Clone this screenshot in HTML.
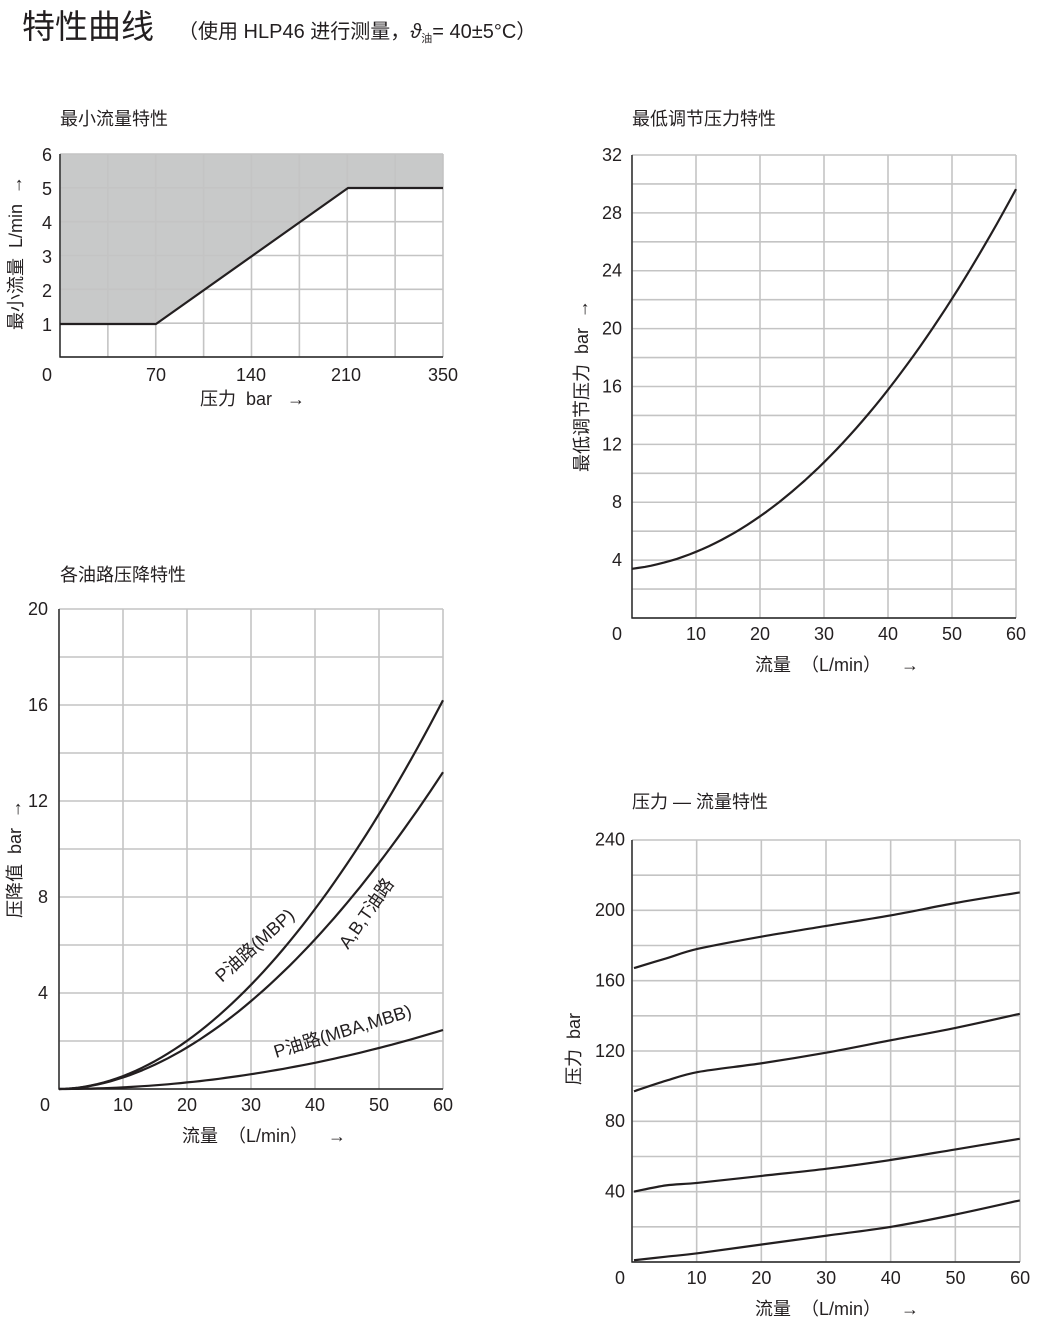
<!DOCTYPE html>
<html><head><meta charset="utf-8"><style>
html,body{margin:0;padding:0;background:#fff;}
svg{display:block;font-family:"Liberation Sans","Noto Sans CJK SC",sans-serif;}
.g{stroke:#c4c4c4;stroke-width:1.6;fill:none}
.ax{stroke:#222;stroke-width:1.4;fill:none}
.c{stroke:#231f20;stroke-width:2.2;fill:none;stroke-linejoin:round}
text{fill:#231f20;font-size:18px;white-space:pre}
</style></head><body>
<svg id="s" width="1046" height="1332" viewBox="0 0 1046 1332">
<text x="22" y="38" style="font-size:33px" font-family="Noto Sans CJK SC, sans-serif">特性曲线</text>
<text x="178" y="38" style="font-size:20px">（使用 HLP46 进行测量，<tspan font-style="italic">ϑ</tspan><tspan font-size="11" dy="4">油</tspan><tspan dy="-4">= 40±5°C）</tspan></text>

<!-- Chart 1 -->
<text x="60" y="125">最小流量特性</text>
<polygon points="60,154 443,154 443,188 348,188 156,324 60,324" fill="#c8c9c9"/>
<g id="g1"></g>
<polyline class="c" points="60,324 156,324 348,188 443,188"/>
<g text-anchor="end">
<text x="52" y="161">6</text><text x="52" y="195">5</text><text x="52" y="229">4</text><text x="52" y="263">3</text><text x="52" y="297">2</text><text x="52" y="331">1</text>
</g>
<g text-anchor="middle">
<text x="47" y="381">0</text><text x="156" y="381">70</text><text x="251" y="381">140</text><text x="346" y="381">210</text><text x="443" y="381">350</text>
</g>
<text x="200" y="405">压力  bar   →</text>
<text transform="translate(22,330) rotate(-90)">最小流量  L/min  →</text>

<!-- Chart 2 -->
<text x="632" y="125">最低调节压力特性</text>
<g id="g2"></g>
<path id="c2" class="c"/>
<g text-anchor="end" id="t2"></g>
<text x="755" y="671">流量  （L/min）    →</text>
<text transform="translate(588,472) rotate(-90)">最低调节压力  bar  →</text>

<!-- Chart 3 -->
<text x="60" y="581">各油路压降特性</text>
<g id="g3"></g>
<path id="c3a" class="c"/><path id="c3b" class="c"/><path id="c3c" class="c"/>
<g text-anchor="end" id="t3"></g>
<text x="182" y="1142">流量  （L/min）    →</text>
<text transform="translate(21,918) rotate(-90)">压降值  bar  →</text>
<text transform="translate(222,983) rotate(-42)">P油路(MBP)</text>
<text transform="translate(348,950) rotate(-55)">A,B,T油路</text>
<text transform="translate(276,1058) rotate(-17)">P油路(MBA,MBB)</text>

<!-- Chart 4 -->
<text x="632" y="808">压力 — 流量特性</text>
<g id="g4"></g>
<g id="c4"></g>
<g text-anchor="end" id="t4"></g>
<text x="755" y="1315">流量  （L/min）    →</text>
<text transform="translate(580,1085) rotate(-90)">压力  bar</text>
</svg>
<script>
var NS="http://www.w3.org/2000/svg";
function el(p,n,a,t){var e=document.createElementNS(NS,n);for(var k in a)e.setAttribute(k,a[k]);if(t!=null)e.textContent=t;document.getElementById(p).appendChild(e);return e;}
function grid(id,x0,x1,y0,y1,nc,nr){
 for(var i=0;i<=nc;i++){var x=x0+(x1-x0)*i/nc;el(id,"line",{x1:x,x2:x,y1:y0,y2:y1,"class":"g"});}
 for(var j=0;j<=nr;j++){var y=y0+(y1-y0)*j/nr;el(id,"line",{x1:x0,x2:x1,y1:y,y2:y,"class":"g"});}
 el(id,"polyline",{points:x0+","+y0+" "+x0+","+y1+" "+x1+","+y1,"class":"ax"});
}
grid("g1",60,443,154,357,8,6);
grid("g2",632,1016,155,618,6,16);
grid("g3",59,443,609,1089,6,10);
grid("g4",632,1020,840,1262,6,12);
function path(f,X,Y){var d="";for(var q=0;q<=60;q+=1){d+=(q?"L":"M")+X(q).toFixed(1)+","+Y(f(q)).toFixed(1);}return d;}
document.getElementById("c2").setAttribute("d",path(function(q){return 3.4+0.0533*q+0.0064*q*q},function(q){return 632+q*6.4},function(v){return 618-v*14.47}));
var X3=function(q){return 59+q*6.4},Y3=function(v){return 1089-v*24};
document.getElementById("c3a").setAttribute("d",path(function(q){return 16.2*Math.pow(q/60,1.9)},X3,Y3));
document.getElementById("c3b").setAttribute("d",path(function(q){return 13.2*Math.pow(q/60,1.85)},X3,Y3));
document.getElementById("c3c").setAttribute("d",path(function(q){return 2.46*Math.pow(q/60,2)},X3,Y3));
var qs=[0,5,10,20,30,40,50,60];
var L=[[167,172.5,178,185,191,197,204,210],[97,103,108,113,119,126,133,141],[40,43.5,45,49,53,58,64,70],[1,3,5,10,15,20,27,35]];
L.forEach(function(a){
 var P=qs.map(function(q,i){return [634+q*6.43,1262-a[i]*1.76]});
 var d="M"+P[0][0].toFixed(1)+","+P[0][1].toFixed(1);
 for(var i=0;i<P.length-1;i++){
  var p0=P[Math.max(i-1,0)],p1=P[i],p2=P[i+1],p3=P[Math.min(i+2,P.length-1)];
  var c1=[p1[0]+(p2[0]-p0[0])/6,p1[1]+(p2[1]-p0[1])/6],c2=[p2[0]-(p3[0]-p1[0])/6,p2[1]-(p3[1]-p1[1])/6];
  d+="C"+c1[0].toFixed(1)+","+c1[1].toFixed(1)+" "+c2[0].toFixed(1)+","+c2[1].toFixed(1)+" "+p2[0].toFixed(1)+","+p2[1].toFixed(1);
 }
 el("c4","path",{d:d,"class":"c"});});
[4,8,12,16,20,24,28,32].forEach(function(v){el("t2","text",{x:622,y:618-v*14.47+6},v)});
el("t2","text",{x:622,y:640},"0");
[10,20,30,40,50,60].forEach(function(q){el("t2","text",{x:632+q*6.4+10,y:640},q)});
[4,8,12,16,20].forEach(function(v){el("t3","text",{x:48,y:1089-v*24+6},v)});
el("t3","text",{x:50,y:1111},"0");
[10,20,30,40,50,60].forEach(function(q){el("t3","text",{x:59+q*6.4+10,y:1111},q)});
[40,80,120,160,200,240].forEach(function(v){el("t4","text",{x:625,y:1262-v*1.76+6},v)});
el("t4","text",{x:625,y:1284},"0");
[10,20,30,40,50,60].forEach(function(q){el("t4","text",{x:632+q*6.47+10,y:1284},q)});
</script>
</body></html>
